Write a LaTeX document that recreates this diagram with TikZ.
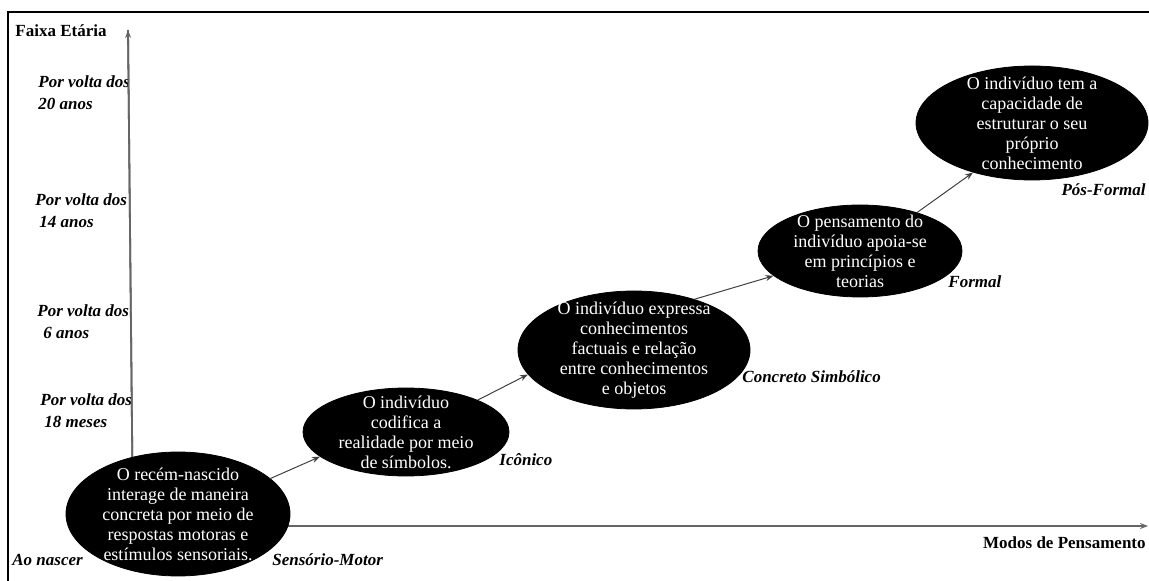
\documentclass[tikz,border=0pt]{standalone}
\usepackage{fontspec}
\setmainfont{Liberation Serif}
\usetikzlibrary{shapes.geometric,arrows.meta}

\begin{document}
\begin{tikzpicture}[x=0.5pt,y=-0.5pt,
  stage/.style={ellipse,fill=black,draw=black,inner sep=0pt},
  stagetext/.style={text=white,align=center,inner sep=0pt,
    font=\fontsize{9pt}{10pt}\selectfont},
  agelabel/.style={anchor=west,align=left,inner sep=0pt,
    font=\fontsize{8.5pt}{11pt}\selectfont\bfseries\itshape},
  modelabel/.style={anchor=west,inner sep=0pt,
    font=\fontsize{8.5pt}{10pt}\selectfont\bfseries\itshape},
  axistitle/.style={anchor=west,inner sep=0pt,
    font=\fontsize{8.5pt}{10pt}\selectfont\bfseries},
  axis/.style={draw=black!60,line width=0.9pt,-{Stealth[length=4pt,width=3pt]}},
  link/.style={draw=black!75,line width=0.5pt,-{Stealth[length=4pt,width=3pt]}}]

\useasboundingbox (0,0) rectangle (1149,581);

% frame
\draw[line width=1pt] (8,581) -- (8,12) -- (1149,12);

% axes
\coordinate (origin) at (133,526);
\coordinate (ytop) at (128,30);
\coordinate (xend) at (1148,526);
\draw[axis] (origin) -- (ytop);
\draw[axis] (origin) -- (xend);

% axis titles
\node[axistitle] (ytitle) at (15,31) {Faixa Etária};
\node[axistitle,anchor=east] (xtitle) at (1146,543) {Modos de Pensamento};

% age labels
\node[agelabel] (a20) at (38,93) {Por volta dos\\20 anos};
\node[agelabel] (a14) at (35,211) {Por volta dos\\\hspace{2pt}14 anos};
\node[agelabel] (a6) at (37,322) {Por volta dos\\\hspace{3pt}6 anos};
\node[agelabel] (a18) at (40,411) {Por volta dos\\\hspace{2pt}18 meses};
\node[agelabel] (a0) at (12,560) {Ao nascer};

% redraw the vertical axis over the first label
\draw[draw=black!60,line width=0.9pt] (origin) -- (ytop);

% stages
\node[stage,minimum width=112pt,minimum height=62pt] (e1) at (178,514) {};
\node[stage,minimum width=103pt,minimum height=44pt] (e2) at (406,432) {};
\node[stage,minimum width=116pt,minimum height=59pt] (e3) at (634,350) {};
\node[stage,minimum width=102pt,minimum height=46pt] (e4) at (860,251) {};
\node[stage,minimum width=116pt,minimum height=57pt] (e5) at (1032,123) {};

\node[stagetext] (t1) at (e1) {O recém-nascido\\interage de maneira\\concreta por meio de\\respostas motoras e\\estímulos sensoriais.};
\node[stagetext] (t2) at (e2) {O indivíduo\\codifica a\\realidade por meio\\de símbolos.};
\node[stagetext] (t3) at (e3) {O indivíduo expressa\\conhecimentos\\factuais e relação\\entre conhecimentos\\e objetos};
\node[stagetext] (t4) at (e4) {O pensamento do\\indivíduo apoia-se\\em princípios e\\teorias};
\node[stagetext] (t5) at (e5) {O indivíduo tem a\\capacidade de\\estruturar o seu\\próprio\\conhecimento};

% transitions
\draw[link] (e1.21) -- (e2.196);
\draw[link] (e2.24) -- (e3.193);
\draw[link] (e3.40) -- (e4.196);
\draw[link] (e4.34) -- (e5.220);

% stage names
\node[modelabel] (m1) at (272,560) {Sensório-Motor};
\node[modelabel] (m2) at (499,460) {Icônico};
\node[modelabel] (m3) at (742,377) {Concreto Simbólico};
\node[modelabel] (m4) at (948,282) {Formal};
\node[modelabel,anchor=east] (m5) at (1146,190) {Pós-Formal};

\end{tikzpicture}
\end{document}
